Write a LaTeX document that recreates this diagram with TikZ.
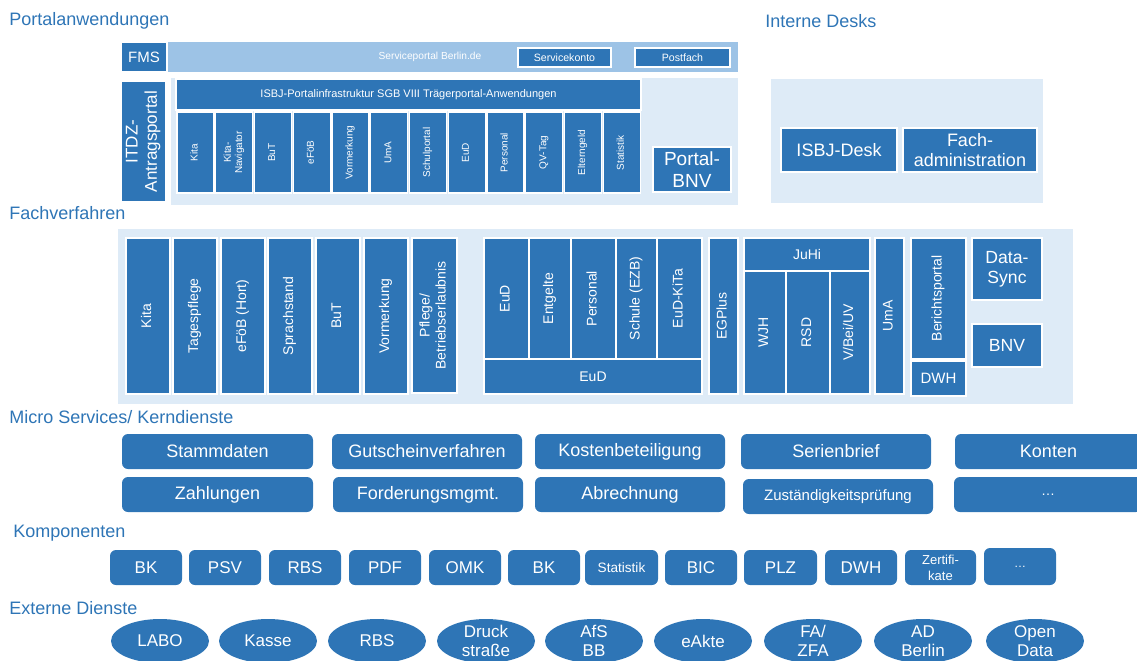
\documentclass[tikz,border=0pt]{standalone}
\usepackage{fontspec}
\setmainfont{Liberation Sans}
\usetikzlibrary{shapes.geometric}
\definecolor{dblue}{HTML}{2E75B6}
\definecolor{lbar}{HTML}{9DC3E6}
\definecolor{panelc}{HTML}{DEEBF7}
\definecolor{headc}{HTML}{2E75B6}
\newcommand\BX[7][]{\node[bx,minimum width={(#5-#3)*0.5pt},minimum height={(#6-#4)*0.5pt},#1] (#2) at ({(#3+#5)/2},{(#4+#6)/2}) {#7};}
\newcommand\RT[1]{\rotatebox{90}{\begin{tabular}{@{}c@{}}#1\end{tabular}}}
\tikzset{
  bx/.style={fill=dblue,draw=white,line width=0.6pt,text=white,inner sep=0pt,align=center,font=\fontsize{7}{8}\selectfont},
  pnl/.style={fill=panelc,draw=none},
  rb/.style={bx,draw=none,rounded corners=3pt,font=\fontsize{9}{10.5}\selectfont},
  cb/.style={bx,draw=none,rounded corners=3pt,font=\fontsize{8.5}{10}\selectfont},
  el/.style={ellipse,fill=dblue,draw=none,inner sep=0pt,minimum width=49pt,minimum height=22pt},
  eltx/.style={text=white,inner sep=0pt,align=center,font=\fontsize{8.5}{9.5}\selectfont},
  hd/.style={text=headc,anchor=west,inner sep=0pt,font=\fontsize{9}{10.5}\selectfont}
}
\begin{document}
\begin{tikzpicture}[x=0.5pt,y=-0.5pt]
\useasboundingbox (0,0) rectangle (1137,660);
% headings
\node[hd] (h1) at (9,21) {Portalanwendungen};
\node[hd] (h2) at (765,21) {Interne Desks};
\node[hd] (h3) at (9,213) {Fachverfahren};
\node[hd] (h4) at (9,417) {Micro Services/ Kerndienste};
\node[hd] (h5) at (13,533) {Komponenten};
\node[hd] (h6) at (9,608) {Externe Dienste};
% Portal
\BX[fill=lbar,draw=none]{spbar}{167}{42}{738}{72}{}
\node[text=white,inner sep=0pt,font=\fontsize{5.1}{6}\selectfont] (sptext) at (430,57) {Serviceportal Berlin.de};
\BX[font=\fontsize{7.5}{8.5}\selectfont]{fms}{121}{42}{167}{72}{FMS}
\BX[font=\fontsize{5.3}{6}\selectfont]{skonto}{518}{48}{611}{67}{Servicekonto}
\BX[font=\fontsize{5.3}{6}\selectfont]{postfach}{635}{48}{730}{67}{Postfach}
\BX[pnl]{ppanel}{171}{78}{738}{205}{}
\BX[font=\fontsize{8.5}{9.6}\selectfont]{itdz}{121}{81}{166}{202}{\RT{ITDZ-\\Antragsportal}}
\BX[font=\fontsize{5.5}{6.5}\selectfont]{isbj}{176}{79}{641}{110}{ISBJ-Portalinfrastruktur SGB VIII Trägerportal-Anwendungen}
\foreach \t [count=\i from 0] in {Kita,{Kita-\\Navigator},BuT,eFöB,Vormerkung,UmA,Schulportal,EuD,Personal,QV-Tag,Elterngeld,Statistik}{
  \pgfmathsetmacro\xa{177+\i*38.75}
  \pgfmathsetmacro\xb{\xa+37}
  \BX[font=\fontsize{5}{5.6}\selectfont]{tc\i}{\xa}{112}{\xb}{193}{\RT{\t}}
}
\BX[font=\fontsize{9.5}{11}\selectfont]{pbnv}{653}{147}{731}{192}{Portal-\\BNV}
% Interne Desks
\BX[pnl]{idpanel}{771}{79}{1043}{203}{}
\BX[font=\fontsize{9}{10.5}\selectfont]{desk}{781}{128}{897}{172}{ISBJ-Desk}
\BX[font=\fontsize{9}{10}\selectfont]{fadm}{903}{128}{1037}{172}{Fach-\\administration}
% Fachverfahren
\BX[pnl]{fpanel}{118}{229}{1073}{404}{}
\BX{fkita}{126}{238}{170}{394}{\RT{Kita}}
\BX{ftage}{173}{238}{217}{394}{\RT{Tagespflege}}
\BX{fefob}{221}{238}{265}{394}{\RT{eFöB (Hort)}}
\BX{fsprach}{268}{238}{312}{394}{\RT{Sprachstand}}
\BX{fbut}{316}{238}{360}{394}{\RT{BuT}}
\BX{fvorm}{364}{238}{408}{394}{\RT{Vormerkung}}
\BX{fpfl}{412}{238}{457}{393}{\RT{Pflege/\\Betriebserlaubnis}}
\BX{feud1}{484}{238}{529}{359}{\RT{EuD}}
\BX{fentg}{529}{238}{571}{359}{\RT{Entgelte}}
\BX{fpers}{571}{238}{616}{359}{\RT{Personal}}
\BX{fschu}{616}{238}{657}{359}{\RT{Schule (EZB)}}
\BX{feudk}{657}{238}{702}{359}{\RT{EuD-KiTa}}
\BX{feud}{484}{359}{702}{394}{EuD}
\BX{fegp}{709}{238}{738}{394}{\RT{EGPlus}}
\BX{fjuhi}{744}{238}{870}{271}{JuHi}
\BX{fwjh}{744}{271}{786}{394}{\RT{WJH}}
\BX{frsd}{786}{271}{830}{394}{\RT{RSD}}
\BX{fvbei}{830}{271}{870}{394}{\RT{V/Bei/UV}}
\BX{fuma}{875}{238}{904}{394}{\RT{UmA}}
\BX{fber}{911}{238}{966}{359}{\RT{Berichtsportal}}
\BX[font=\fontsize{7.5}{8.5}\selectfont]{fdwh}{911}{361}{966}{396}{DWH}
\BX[font=\fontsize{8.8}{9.8}\selectfont]{fsync}{972}{238}{1042}{300}{Data-\\Sync}
\BX[font=\fontsize{8.8}{9.8}\selectfont]{fbnv}{972}{324}{1042}{367}{BNV}
% Micro services
\BX[rb]{m1}{122}{434}{313}{469}{Stammdaten}
\BX[rb]{m2}{332}{434}{522}{469}{Gutscheinverfahren}
\BX[rb]{m3}{535}{434}{725}{469}{Kostenbeteiligung}
\BX[rb]{m4}{741}{434}{931}{469}{Serienbrief}
\BX[rb]{m5}{955}{434}{1142}{469}{Konten}
\BX[rb]{m6}{122}{477}{313}{512}{Zahlungen}
\BX[rb]{m7}{333}{477}{523}{512}{Forderungsmgmt.}
\BX[rb]{m8}{535}{477}{725}{512}{Abrechnung}
\BX[rb,font=\fontsize{7.5}{8.5}\selectfont]{m9}{743}{479}{933}{514}{Zuständigkeitsprüfung}
\BX[rb,font=\fontsize{7}{8}\selectfont]{m10}{954}{477}{1142}{512}{\dots}
% Komponenten
\BX[cb]{k1}{110}{550}{182}{585}{BK}
\BX[cb]{k2}{189}{550}{261}{585}{PSV}
\BX[cb]{k3}{269}{550}{341}{585}{RBS}
\BX[cb]{k4}{349}{550}{421}{585}{PDF}
\BX[cb]{k5}{429}{550}{501}{585}{OMK}
\BX[cb]{k6}{508}{550}{580}{585}{BK}
\BX[cb,font=\fontsize{6.8}{7.5}\selectfont]{k7}{585}{550}{658}{585}{Statistik}
\BX[cb]{k8}{665}{550}{737}{585}{BIC}
\BX[cb]{k9}{744}{550}{817}{585}{PLZ}
\BX[cb]{k10}{825}{550}{897}{585}{DWH}
\BX[cb,font=\fontsize{6.5}{8}\selectfont]{k11}{905}{550}{976}{585}{Zertifi-\\kate}
\BX[cb,font=\fontsize{6}{7}\selectfont]{k12}{984}{548}{1056}{585}{\dots}
% Externe Dienste
\foreach \cx/\t [count=\i] in {160/LABO,268/Kasse,377/RBS,486/{Druck\\straße},594/{AfS\\BB},703/eAkte,813/{FA/\\ZFA},923/{AD\\Berlin},1035/{Open\\Data}}{
  \node[el] (e\i) at (\cx,641) {};
  \node[eltx] (et\i) at (e\i.center) {\t};
}
\end{tikzpicture}
\end{document}
